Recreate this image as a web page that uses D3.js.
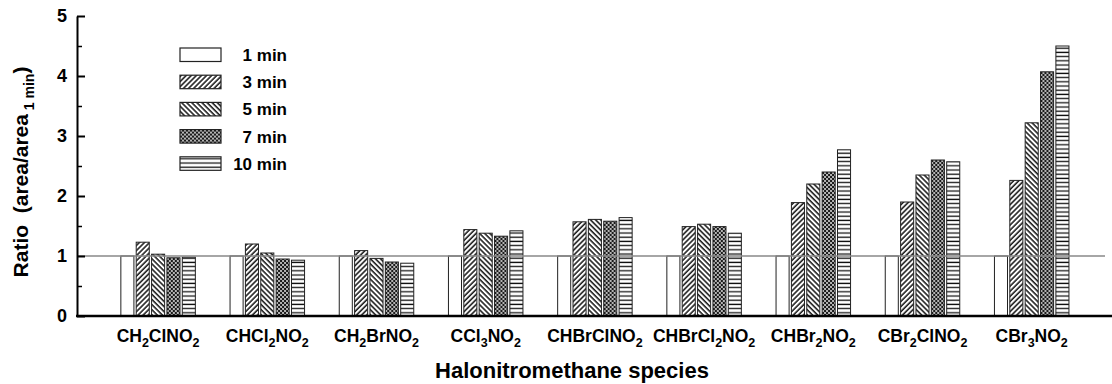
<!DOCTYPE html>
<html>
<head>
<meta charset="utf-8">
<script src="https://cdn.jsdelivr.net/npm/d3@7"></script>
<style>
  body { margin: 0; background: #fff; }
  text { font-family: "Liberation Sans", Arial, sans-serif; font-weight: bold; fill: #000; white-space: pre; }
</style>
</head>
<body>
<svg id="chart" width="1112" height="384"></svg>
<script>
// data
const species = ["CH2ClNO2", "CHCl2NO2", "CH2BrNO2", "CCl3NO2", "CHBrClNO2",
                 "CHBrCl2NO2", "CHBr2NO2", "CBr2ClNO2", "CBr3NO2"];
const times = ["1 min", "3 min", "5 min", "7 min", "10 min"];
const min1  = [1, 1, 1, 1, 1, 1, 1, 1, 1];
const min3  = [1.23, 1.20, 1.09, 1.44, 1.57, 1.49, 1.89, 1.90, 2.26];
const min5  = [1.03, 1.05, 0.96, 1.38, 1.61, 1.53, 2.20, 2.35, 3.22];
const min7  = [0.97, 0.95, 0.90, 1.33, 1.58, 1.49, 2.40, 2.60, 4.07];
const min10 = [0.98, 0.93, 0.88, 1.42, 1.64, 1.38, 2.77, 2.57, 4.50];
const yTicks = [0, 1, 2, 3, 4, 5];
const yMinorTicks = [0.5, 1.5, 2.5, 3.5, 4.5];

const seriesValues = [min1, min3, min5, min7, min10];
const fills = ["#fff", "url(#p3)", "url(#p5)", "url(#p7)", "url(#p10)"];

const svg = d3.select("#chart");
const axisX = 77, plotRight = 1112;

// hatch patterns
const defs = svg.append("defs");
function lines(id, angle) {
    const p = defs.append("pattern").attr("id", id)
        .attr("patternUnits", "userSpaceOnUse")
        .attr("width", 3.6).attr("height", 10)
        .attr("patternTransform", `rotate(${angle})`);
    p.append("rect").attr("width", 3.6).attr("height", 10).attr("fill", "#fff");
    p.append("line").attr("x1", 1).attr("x2", 1).attr("y1", 0).attr("y2", 10)
        .attr("stroke", "#111").attr("stroke-width", 1.5);
}
lines("p3", 45);
lines("p5", -45);
const p7 = defs.append("pattern").attr("id", "p7")
    .attr("patternUnits", "userSpaceOnUse").attr("width", 4).attr("height", 4);
p7.append("rect").attr("width", 4).attr("height", 4).attr("fill", "#1a1a1a");
p7.append("circle").attr("cx", 1).attr("cy", 1).attr("r", 0.9).attr("fill", "#fff");
p7.append("circle").attr("cx", 3).attr("cy", 3).attr("r", 0.9).attr("fill", "#fff");
const p10 = defs.append("pattern").attr("id", "p10")
    .attr("patternUnits", "userSpaceOnUse").attr("width", 10).attr("height", 4.2);
p10.append("rect").attr("width", 10).attr("height", 4.2).attr("fill", "#fff");
p10.append("line").attr("x1", 0).attr("x2", 10).attr("y1", 2).attr("y2", 2)
    .attr("stroke", "#111").attr("stroke-width", 1.3);

// scales
const y = d3.scaleLinear().domain([0, 5]).range([316, 16]);
const x0 = d3.scaleBand().domain(species).range([103.5, 1086.3]);
const x1 = d3.scaleBand().domain(times).range([0, 74.5]).paddingInner(0.15);
const groupOffset = (x0.bandwidth() - 74.5) / 2;

// bars
const groups = svg.append("g").selectAll("g").data(species).join("g")
    .attr("transform", d => `translate(${x0(d) + groupOffset},0)`);
groups.selectAll("rect")
    .data((d, i) => times.map((t, j) => ({ t, v: seriesValues[j][i], f: fills[j] })))
    .join("rect")
    .attr("x", d => x1(d.t))
    .attr("width", x1.bandwidth())
    .attr("y", d => y(d.v))
    .attr("height", d => y(0) - y(d.v))
    .attr("fill", d => d.f)
    .attr("stroke", "#222")
    .attr("stroke-width", 1);

// reference line at ratio 1
svg.append("line")
    .attr("x1", axisX).attr("x2", 1105)
    .attr("y1", y(1)).attr("y2", y(1))
    .attr("stroke", "#888").attr("stroke-width", 1.5);

// y axis (ticks point inwards)
const yAxis = svg.append("g").attr("transform", `translate(${axisX},0)`)
    .call(d3.axisLeft(y).tickValues(yTicks).tickFormat(d3.format("d"))
        .tickSizeInner(-8).tickSizeOuter(0).tickPadding(10));
yAxis.select(".domain").attr("stroke", "#000").attr("stroke-width", 2);
yAxis.selectAll(".tick line").attr("stroke", "#000").attr("stroke-width", 2);
yAxis.selectAll("text").style("font-size", "18px");
const yMinor = svg.append("g").attr("transform", `translate(${axisX},0)`)
    .call(d3.axisLeft(y).tickValues(yMinorTicks).tickFormat("").tickSize(-5));
yMinor.select(".domain").remove();
yMinor.selectAll(".tick line").attr("stroke", "#000").attr("stroke-width", 1.5);

// x axis
svg.append("line")
    .attr("x1", axisX - 1).attr("x2", plotRight)
    .attr("y1", y(0)).attr("y2", y(0))
    .attr("stroke", "#000").attr("stroke-width", 2.5);
const xAxis = svg.append("g").attr("transform", `translate(0,${y(0)})`)
    .call(d3.axisBottom(x0).tickSize(0).tickPadding(0));
xAxis.select(".domain").remove();
xAxis.selectAll(".tick text").each(function (d) {
    const t = d3.select(this).text("").attr("y", 26).attr("dy", null)
        .style("font-size", "17.5px");
    d.split(/(\d+)/).filter(s => s.length).forEach(s => {
        if (/\d/.test(s)) {
            t.append("tspan").attr("dy", 5).style("font-size", "12.5px").text(s);
        } else {
            const prevSub = t.node().lastChild && /\d/.test(t.node().lastChild.textContent);
            t.append("tspan").attr("dy", prevSub ? -5 : 0).text(s);
        }
    });
});

// axis titles
svg.append("text")
    .attr("x", 572).attr("y", 378)
    .attr("text-anchor", "middle")
    .style("font-size", "22px")
    .text("Halonitromethane species");
const yTitle = svg.append("text")
    .attr("transform", "translate(28,172) rotate(-90)")
    .attr("text-anchor", "middle")
    .style("font-size", "21px");
yTitle.append("tspan").text("Ratio  (area/area");
yTitle.append("tspan").attr("dy", 6).style("font-size", "14px").text(" 1 min");
yTitle.append("tspan").attr("dy", -6).text(")");

// legend
const legend = svg.append("g").selectAll("g").data(times).join("g")
    .attr("transform", (d, i) => `translate(180,${48 + i * 27.2})`);
legend.append("rect")
    .attr("width", 41).attr("height", 13.5)
    .attr("fill", (d, i) => fills[i])
    .attr("stroke", "#222").attr("stroke-width", 1.2);
legend.append("text")
    .attr("x", 107).attr("y", 13)
    .attr("text-anchor", "end")
    .style("font-size", "17px")
    .text(d => d);
</script>
</body>
</html>
